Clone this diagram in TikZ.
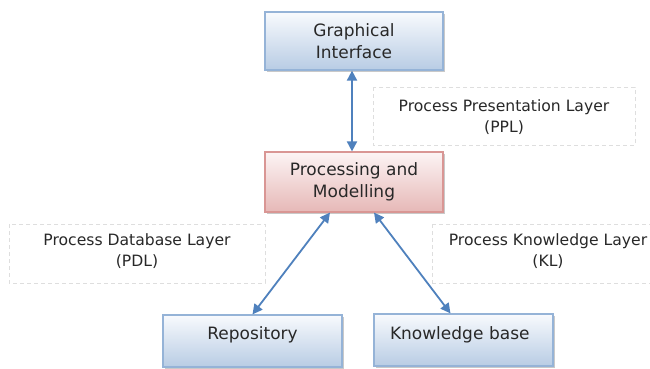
\documentclass[tikz,border=0pt]{standalone}
\usepackage{fontspec}
\setmainfont{DejaVu Sans}
\usetikzlibrary{arrows.meta,shadows}
\definecolor{bluebd}{RGB}{149,179,215}
\definecolor{bluetop}{RGB}{248,250,253}
\definecolor{bluebot}{RGB}{184,204,228}
\definecolor{pinkbd}{RGB}{217,150,148}
\definecolor{pinktop}{RGB}{252,244,244}
\definecolor{pinkbot}{RGB}{230,184,183}
\definecolor{arrowblue}{RGB}{79,129,189}
\definecolor{dashgrey}{RGB}{222,222,222}
\definecolor{txt}{RGB}{40,40,40}
\tikzset{
  boxbase/.style={rectangle, inner sep=0pt, line width=1.2pt, text=txt,
    font=\fontsize{17}{22}\selectfont, align=center,
    drop shadow={shadow xshift=1.6pt, shadow yshift=-1.8pt, opacity=0.35, fill=black!60}},
  bluebox/.style={boxbase, draw=bluebd, top color=bluetop, bottom color=bluebot},
  pinkbox/.style={boxbase, draw=pinkbd, top color=pinktop, bottom color=pinkbot},
  layerbox/.style={draw=dashgrey, dashed, line width=0.6pt, dash pattern=on 4pt off 3pt},
  layertext/.style={text=txt, font=\fontsize{15.6}{21}\selectfont, align=center, inner sep=0pt},
  biarrow/.style={draw=arrowblue, line width=1.8pt,
    {Triangle[length=10pt,width=10pt]}-{Triangle[length=10pt,width=10pt]}}
}
\begin{document}
\begin{tikzpicture}[x=1pt,y=-1pt]
\useasboundingbox[fill=white] (0,0) rectangle (650,369);
% dashed layer boxes
\draw[layerbox] (373,87) rectangle (635,145);
\draw[layerbox] (9,224) rectangle (265,283);
\draw[layerbox] (432,224) -- (660,224);
\draw[layerbox] (432,283) -- (660,283);
\draw[layerbox] (432,224) -- (432,283);
\node[layertext] (ppl) at (504,117) {Process Presentation Layer\\(PPL)};
\node[layertext] (pdl) at (137,251) {Process Database Layer\\(PDL)};
\node[layertext] (kl) at (548,251) {Process Knowledge Layer\\(KL)};
% boxes
\node[bluebox, minimum width=178pt, minimum height=58pt] (gi) at (354,41) {Graphical\\Interface};
\node[pinkbox, minimum width=178pt, minimum height=60pt] (pm) at (354,182) {Processing and\\Modelling};
\node[bluebox, minimum width=179pt, text height=24pt, text depth=28pt] (repo) at (252.5,341) {Repository};
\node[bluebox, text width=147pt, align=left, inner xsep=16pt, text height=25pt, text depth=27pt] (kb) at (463.5,340) {Knowledge base};
% arrows
\draw[biarrow] ([xshift=-2pt]gi.south) -- ([xshift=-2pt]pm.north);
\draw[biarrow] ([xshift=-24pt]pm.south) -- (repo.north);
\draw[biarrow] ([xshift=20pt]pm.south) -- ([xshift=-13pt]kb.north);
\end{tikzpicture}
\end{document}
